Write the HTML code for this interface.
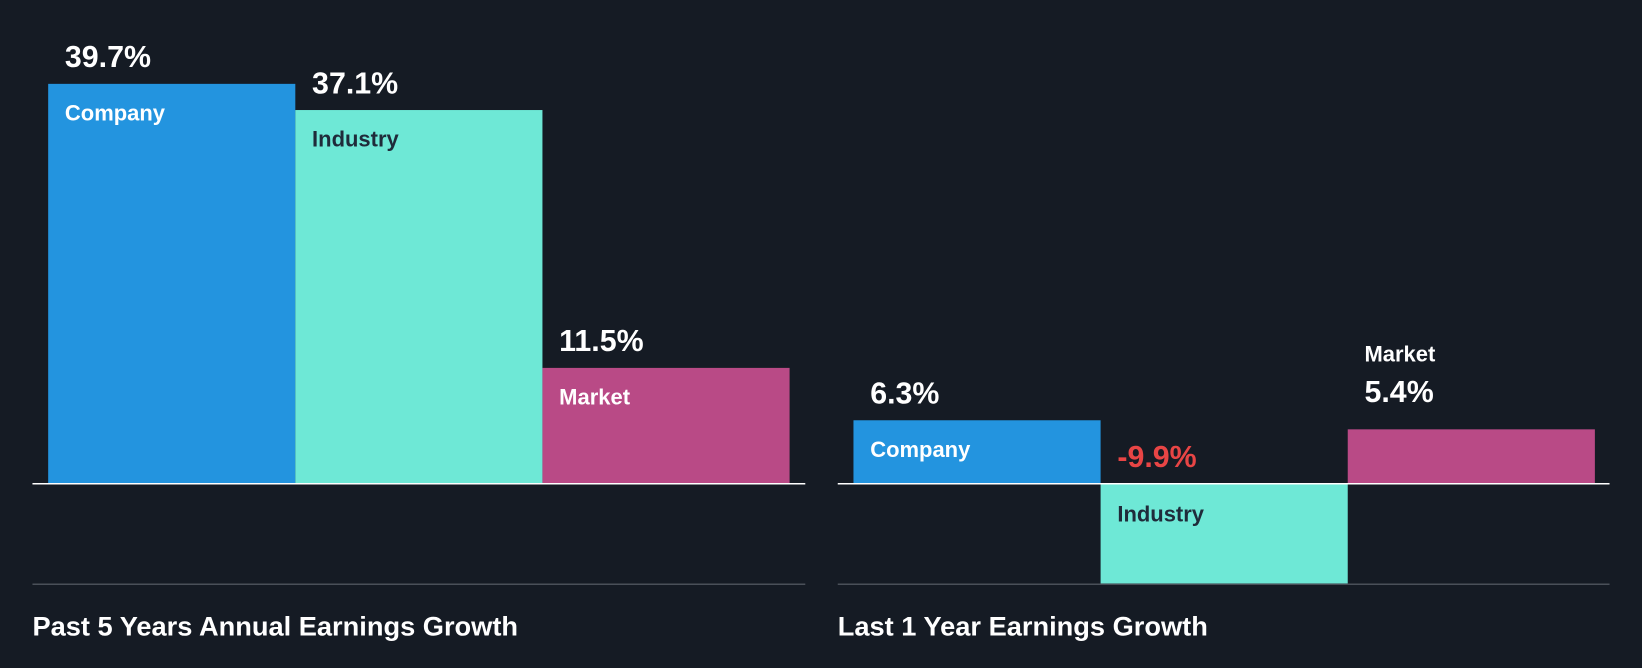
<!DOCTYPE html>
<html><head><meta charset="utf-8"><style>
html,body{margin:0;padding:0;background:#151b24;}
svg{display:block;font-family:"Liberation Sans",Arial,sans-serif;font-weight:bold;}
</style></head><body>
<svg id="chart" width="1642" height="668" viewBox="0 0 1568 638" preserveAspectRatio="none" xmlns="http://www.w3.org/2000/svg">
<rect x="0" y="0" width="1568" height="638" fill="#151b24"/>
</svg>
<script>
const categories = ["Company", "Industry", "Market"];
const past5Values = [39.7, 37.1, 11.5];
const last1Values = [6.3, -9.9, 5.4];
const panelTitles = ["Past 5 Years Annual Earnings Growth", "Last 1 Year Earnings Growth"];

const colors = ["#2394df", "#6ee8d6", "#b94a86"];
const labelColors = ["#ffffff", "#1f2b3a", "#ffffff"];
const svg = document.getElementById('chart');
const NS = "http://www.w3.org/2000/svg";
const baseY = 462, pxPer = 9.62;
const yScale = v => baseY - v * pxPer;
function mk(tag, attrs, text){
  const e = document.createElementNS(NS, tag);
  for (const k in attrs) e.setAttribute(k, attrs[k]);
  if (text !== undefined) e.textContent = text;
  svg.appendChild(e);
  return e;
}
const panels = [
  {vals: past5Values, x0: 46, axL: 31, axR: 769, titleX: 31, key: 'past-5-years'},
  {vals: last1Values, x0: 815, axL: 800, axR: 1537, titleX: 800, key: 'last-1-year'}
];
const bw = 236;
panels.forEach((p, pi) => {
  p.vals.forEach((v, i) => {
    const x = p.x0 + i * bw;
    const top = Math.min(yScale(v), baseY), h = Math.abs(yScale(v) - baseY);
    const r = mk('rect', {x: x, y: top, width: bw, height: h, fill: colors[i]});
    
    
    const valStr = v.toFixed(1) + '%';
    if (v >= 0) {
      const inside = h >= 55;
      const vy = inside ? top - 16 : top - 26;
      const t = mk('text', {x: x + 16, y: vy, fill: '#ffffff', 'font-size': 29}, valStr);
      
      
      const ly = inside ? top + 35 : vy - 39;
      const l = mk('text', {x: x + 16, y: ly, fill: inside ? labelColors[i] : '#ffffff', 'font-size': 21}, categories[i]);
      
      
    } else {
      const t = mk('text', {x: x + 16, y: baseY - 16, fill: '#e84545', 'font-size': 29}, valStr);
      
      
      const l = mk('text', {x: x + 16, y: baseY + 36, fill: labelColors[i], 'font-size': 21}, categories[i]);
      
      
    }
  });
  const ax = mk('line', {x1: p.axL, x2: p.axR, y1: baseY, y2: baseY, stroke: '#ffffff', 'stroke-width': 1.5});
  
  
  const bl = mk('line', {x1: p.axL, x2: p.axR, y1: 558, y2: 558, stroke: '#4a5059', 'stroke-width': 1.5});
  
  
  const tt = mk('text', {x: p.titleX, y: 607, fill: '#ffffff', 'font-size': 26}, panelTitles[pi]);
  
  
});
</script>
</body></html>
